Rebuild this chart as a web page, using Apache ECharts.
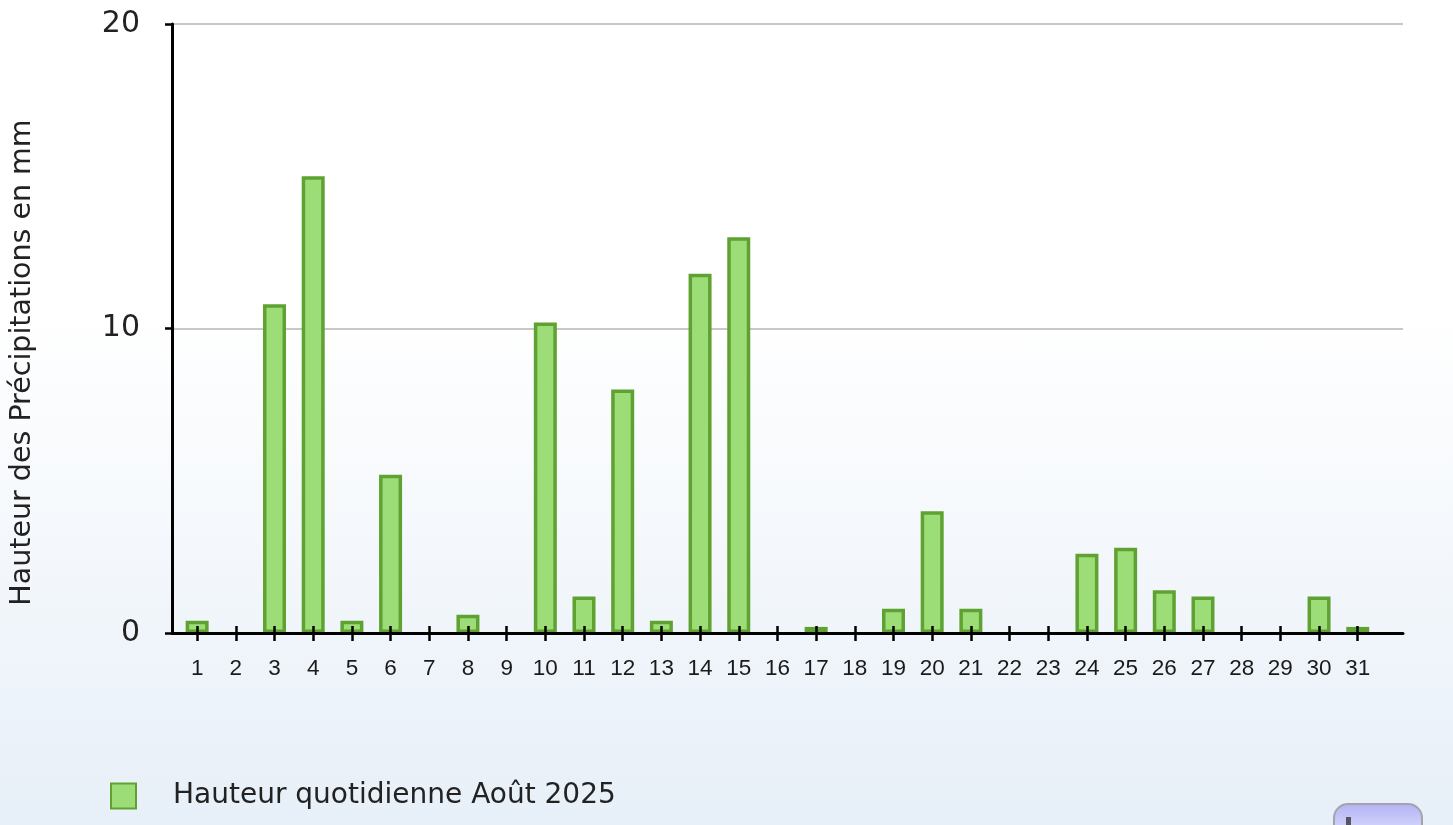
<!DOCTYPE html>
<html><head><meta charset="utf-8">
<script src="https://cdn.jsdelivr.net/npm/echarts@6/dist/echarts.min.js"></script>
<style>
html,body{margin:0;padding:0;width:1453px;height:825px;overflow:hidden;}
body{background:linear-gradient(to bottom,#ffffff 0%,#ffffff 38%,#e7eff8 100%);}
#chart{width:1453px;height:825px;}
</style></head><body><div id="chart"></div>
<script>
const days = [1,2,3,4,5,6,7,8,9,10,11,12,13,14,15,16,17,18,19,20,21,22,23,24,25,26,27,28,29,30,31];
const rainfall = [0.4,0,10.8,15.0,0.4,5.2,0,0.6,0,10.2,1.2,8.0,0.4,11.8,13.0,0,0.2,0,0.8,4.0,0.8,0,0,2.6,2.8,1.4,1.2,0,0,1.2,0.2];
const yTicks = [0,10,20];
const seriesName = 'Hauteur quotidienne Août 2025';
const yAxisName = 'Hauteur des Précipitations en mm';

const FONT = 'DejaVu Sans';
const chart = echarts.init(document.getElementById('chart'), null, {renderer:'canvas'});
const barData = days.map((d,i)=> rainfall[i] === 0
  ? {value:[d, 0], itemStyle:{borderWidth:0}}
  : {value:[d, rainfall[i]]});

chart.setOption({
  backgroundColor:'transparent',
  animation:false,
  grid:{left:172, top:24, right:50, bottom:192, containLabel:false},
  legend:{
    left:105, top:777, itemWidth:25, itemHeight:25, icon:'rect',
    data:[seriesName],
    textStyle:{fontFamily:FONT, fontSize:28, color:'#222', padding:[0,0,0,32]}
  },
  xAxis:[{
    type:'value', min:0.35, max:32.17, position:'bottom', z:5,
    axisLine:{show:true, onZero:false, lineStyle:{color:'#000', width:3}},
    axisTick:{show:true, customValues:days, length:8, lineStyle:{color:'#000', width:2.5}},
    axisLabel:{show:true, customValues:days, margin:24, fontFamily:'Liberation Sans', fontSize:22.5, color:'#1a1a1a'},
    splitLine:{show:false}
  },{
    type:'value', min:0.35, max:32.17, position:'bottom', z:5,
    axisLine:{show:false},
    axisTick:{show:true, inside:true, customValues:days, length:7, lineStyle:{color:'#000', width:2.5}},
    axisLabel:{show:false},
    splitLine:{show:false}
  }],
  yAxis:{
    type:'value', min:yTicks[0], max:yTicks[yTicks.length-1], interval:10,
    name:yAxisName, nameLocation:'middle', nameGap:135, nameRotate:90,
    nameTextStyle:{fontFamily:FONT, fontSize:28.5, color:'#222', padding:[0,68,0,0]},
    axisLine:{show:true, lineStyle:{color:'#000', width:3}},
    axisTick:{show:true, length:7, lineStyle:{color:'#000', width:2.5}},
    axisLabel:{margin:32, fontFamily:FONT, fontSize:30, color:'#222'},
    splitLine:{show:true, lineStyle:{color:'#c8c8c8', width:2}}
  },
  series:[{
    name:seriesName, type:'bar', xAxisIndex:0, yAxisIndex:0,
    barWidth:23,
    itemStyle:{color:'#9ddd78', borderColor:'#5fa231', borderWidth:3.5},
    data:barData
  }],
  graphic:[{
    type:'group', right:30, bottom:-22,
    children:[{
      type:'rect', shape:{x:0, y:0, width:88, height:42, r:14},
      style:{fill:new echarts.graphic.LinearGradient(0,0,0,1,[{offset:0,color:'#b2b2f6'},{offset:1,color:'#ececff'}]), stroke:'#a4a4a8', lineWidth:2}
    },{
      type:'rect', shape:{x:12, y:13, width:5, height:8},
      style:{fill:'#555566'}
    }]
  }]
});
</script></body></html>
